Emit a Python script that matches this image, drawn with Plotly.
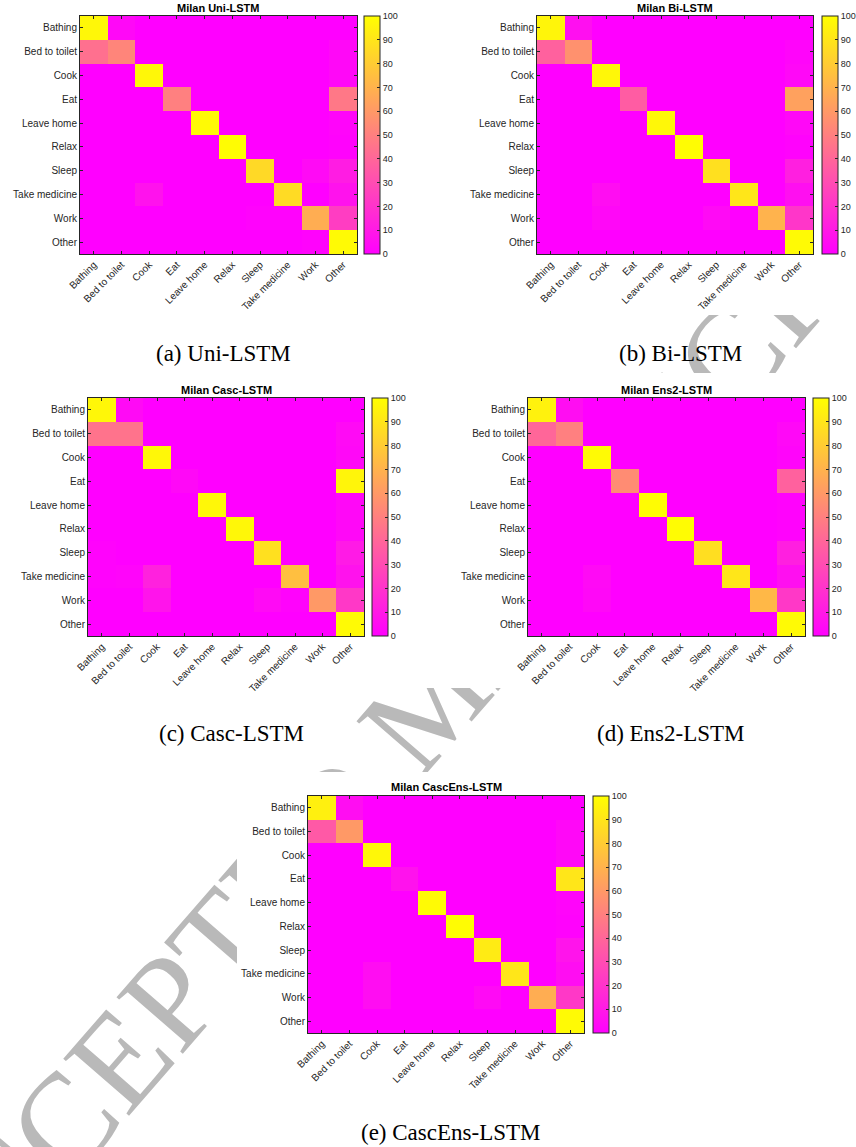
import plotly.graph_objects as go

W, H = 856, 1147

classes = ["Bathing", "Bed to toilet", "Cook", "Eat", "Leave home", "Relax",
           "Sleep", "Take medicine", "Work", "Other"]

uni_lstm = [
    [97, 3, 0, 0, 0, 0, 0, 0, 0, 0],
    [44, 52, 0, 0, 0, 0, 0, 0, 0, 3],
    [0, 0, 97, 0, 0, 0, 0, 0, 0, 3],
    [0, 0, 0, 50, 0, 0, 0, 0, 0, 47],
    [0, 0, 0, 0, 98, 0, 0, 0, 0, 2],
    [0, 0, 0, 0, 0, 99, 0, 0, 0, 1],
    [0, 0, 0, 0, 0, 0, 85, 0, 4, 11],
    [0, 0, 7, 0, 0, 0, 0, 86, 0, 7],
    [0, 0, 0, 0, 0, 0, 1, 1, 68, 24],
    [0, 0, 0, 0, 0, 0, 0, 0, 1, 98],
]

bi_lstm = [
    [96, 6, 0, 0, 0, 0, 0, 0, 0, 0],
    [38, 57, 0, 0, 0, 0, 0, 0, 0, 2],
    [0, 0, 97, 0, 0, 0, 0, 0, 0, 3],
    [0, 0, 0, 36, 0, 0, 0, 0, 0, 63],
    [0, 0, 0, 0, 97, 0, 0, 0, 0, 3],
    [0, 0, 0, 0, 0, 99, 0, 0, 0, 1],
    [0, 0, 0, 0, 0, 0, 88, 0, 0, 12],
    [0, 0, 5, 0, 0, 0, 0, 90, 0, 6],
    [0, 0, 3, 0, 0, 0, 4, 0, 70, 21],
    [0, 0, 0, 0, 0, 0, 0, 0, 0, 98],
]

casc_lstm = [
    [97, 4, 0, 0, 0, 0, 0, 0, 0, 0],
    [45, 45, 0, 0, 0, 0, 0, 0, 0, 4],
    [0, 0, 97, 0, 0, 0, 0, 0, 0, 3],
    [0, 0, 0, 3, 0, 0, 0, 0, 0, 96],
    [0, 0, 0, 0, 97, 0, 0, 0, 0, 3],
    [0, 0, 0, 0, 0, 97, 0, 0, 0, 3],
    [1, 0, 0, 0, 0, 0, 88, 0, 0, 10],
    [1, 2, 13, 0, 0, 0, 0, 75, 0, 7],
    [0, 0, 8, 0, 0, 0, 4, 1, 60, 22],
    [0, 0, 0, 0, 0, 0, 0, 0, 0, 98],
]

ens2_lstm = [
    [95, 5, 0, 0, 0, 0, 0, 0, 0, 0],
    [40, 50, 0, 0, 0, 0, 0, 0, 0, 3],
    [0, 0, 98, 0, 0, 0, 0, 0, 0, 2],
    [0, 0, 0, 55, 0, 0, 0, 0, 0, 38],
    [0, 0, 0, 0, 99, 0, 0, 0, 0, 1],
    [0, 0, 0, 0, 0, 99, 0, 0, 0, 1],
    [0, 0, 0, 0, 0, 0, 87, 0, 0, 12],
    [0, 0, 4, 0, 0, 0, 0, 90, 0, 6],
    [0, 0, 3, 0, 0, 0, 0, 0, 72, 22],
    [0, 0, 0, 0, 0, 0, 0, 0, 0, 98],
]

cascens_lstm = [
    [94, 5, 0, 0, 0, 0, 0, 0, 0, 0],
    [35, 60, 0, 0, 0, 0, 0, 0, 0, 3],
    [0, 0, 97, 0, 0, 0, 0, 0, 0, 3],
    [0, 0, 0, 7, 0, 0, 0, 0, 0, 90],
    [0, 0, 0, 0, 98, 0, 0, 0, 0, 2],
    [0, 0, 0, 0, 0, 99, 0, 0, 0, 1],
    [0, 0, 0, 0, 0, 0, 92, 0, 0, 8],
    [0, 0, 5, 0, 0, 0, 0, 90, 0, 5],
    [0, 0, 5, 0, 0, 0, 4, 0, 68, 22],
    [0, 0, 0, 0, 0, 0, 0, 0, 0, 98],
]

matrices = [uni_lstm, bi_lstm, casc_lstm, ens2_lstm, cascens_lstm]
titles = ["Milan Uni-LSTM", "Milan Bi-LSTM", "Milan Casc-LSTM",
          "Milan Ens2-LSTM", "Milan CascEns-LSTM"]
captions = ["(a) Uni-LSTM", "(b) Bi-LSTM", "(c) Casc-LSTM",
            "(d) Ens2-LSTM", "(e) CascEns-LSTM"]
cbar_ticks = [0, 10, 20, 30, 40, 50, 60, 70, 80, 90, 100]

# layout in pixels: plot area (x0, x1, y0, y1), colorbar left x, title y, caption (x, y)
panels = [
    dict(x0=80, x1=357, y0=16, y1=254, cb=364, ty=8, cx=223, cy=353),
    dict(x0=537, x1=813, y0=16, y1=254, cb=822, ty=8, cx=680, cy=353),
    dict(x0=88, x1=364, y0=398, y1=636, cb=372, ty=390, cx=231, cy=733),
    dict(x0=528, x1=805, y0=398, y1=636, cb=813, ty=390, cx=671, cy=733),
    dict(x0=308, x1=584, y0=796, y1=1033, cb=593, ty=787, cx=451, cy=1132),
]

AX = "#262626"
SANS = "Liberation Sans, Arial, Helvetica, sans-serif"
SERIF = "Liberation Serif, Times New Roman, serif"
spring = [[0, "rgb(255,0,255)"], [1, "rgb(255,255,0)"]]

def px(x):
    return x / W

def py(y):
    return 1 - y / H

fig = go.Figure()

layout = dict(
    width=W, height=H,
    margin=dict(l=0, r=0, t=0, b=0, autoexpand=False),
    paper_bgcolor="white", plot_bgcolor="rgba(0,0,0,0)",
    showlegend=False,
    font=dict(family=SANS, color=AX),
    # full-page helper subplot (drawn first, below the heatmap subplots)
    xaxis=dict(domain=[0, 1], range=[0, W], visible=False, anchor="y",
               showgrid=False, zeroline=False, fixedrange=True),
    yaxis=dict(domain=[0, 1], range=[H, 0], visible=False, anchor="x",
               showgrid=False, zeroline=False, fixedrange=True),
)
annotations = []

for i, (m, p) in enumerate(zip(matrices, panels), start=2):
    sfx = str(i)
    fig.add_trace(go.Heatmap(
        x=classes, y=classes, z=m,
        xaxis="x" + sfx, yaxis="y" + sfx,
        colorscale=spring, zmin=0, zmax=100,
        colorbar=dict(
            x=px(p["cb"]), xanchor="left", xpad=0,
            y=py(p["y0"]), yanchor="top", ypad=0,
            len=(p["y1"] - p["y0"]) / H, lenmode="fraction",
            thickness=16, thicknessmode="pixels",
            outlinewidth=1, outlinecolor=AX,
            tickvals=cbar_ticks, ticks="inside", ticklen=3, tickcolor=AX,
            tickfont=dict(size=9, color=AX, family=SANS),
        ),
    ))
    common = dict(
        ticks="inside", ticklen=3, tickcolor=AX, tickwidth=1,
        showline=True, linecolor=AX, linewidth=1, mirror="ticks",
        showgrid=False, zeroline=False, type="category",
        tickfont=dict(size=10, color=AX, family=SANS),
    )
    layout["xaxis" + sfx] = dict(
        domain=[px(p["x0"]), px(p["x1"])], anchor="y" + sfx,
        tickangle=-45, **common)
    layout["yaxis" + sfx] = dict(
        domain=[py(p["y1"]), py(p["y0"])], anchor="x" + sfx,
        autorange="reversed", **common)
    annotations.append(dict(
        text="<b>" + titles[i - 2] + "</b>", xref="paper", yref="paper",
        x=px((p["x0"] + p["x1"]) / 2), y=py(p["ty"]),
        xanchor="center", yanchor="middle", showarrow=False,
        font=dict(size=11, color="black", family=SANS)))
    annotations.append(dict(
        text=captions[i - 2], xref="paper", yref="paper",
        x=px(p["cx"]), y=py(p["cy"]),
        xanchor="center", yanchor="middle", showarrow=False,
        font=dict(size=23, color="black", family=SERIF)))

# page watermark in the lower shape layer (under every subplot)
cxw, cyw, ux, uy = 420, 691, 0.656, -0.755
shapes = [dict(
    type="line", xref="paper", yref="paper", layer="below",
    x0=px(cxw - 50 * ux), y0=py(cyw - 50 * uy),
    x1=px(cxw + 50 * ux), y1=py(cyw + 50 * uy),
    line=dict(color="rgba(0,0,0,0)", width=0),
    label=dict(text="ACCEPTED MANUSCRIPT", textangle=-49, textposition="middle",
               xanchor="center", yanchor="middle", padding=0,
               font=dict(size=133, color="rgb(185,185,185)", family=SERIF)),
)]
# white backgrounds of the five sub-figure images, drawn in the helper subplot
masks = [(0, 430, 0, 315), (430, 856, 0, 315), (0, 430, 373, 688),
         (430, 856, 373, 688), (237, 680, 772, 1110)]
for (a, b, c, d) in masks:
    shapes.append(dict(type="rect", xref="x", yref="y", layer="below",
                       x0=a, x1=b, y0=c, y1=d,
                       fillcolor="white", line=dict(width=0)))

layout["annotations"] = annotations
layout["shapes"] = shapes
fig.update_layout(**layout)
fig.write_html("out.html")
